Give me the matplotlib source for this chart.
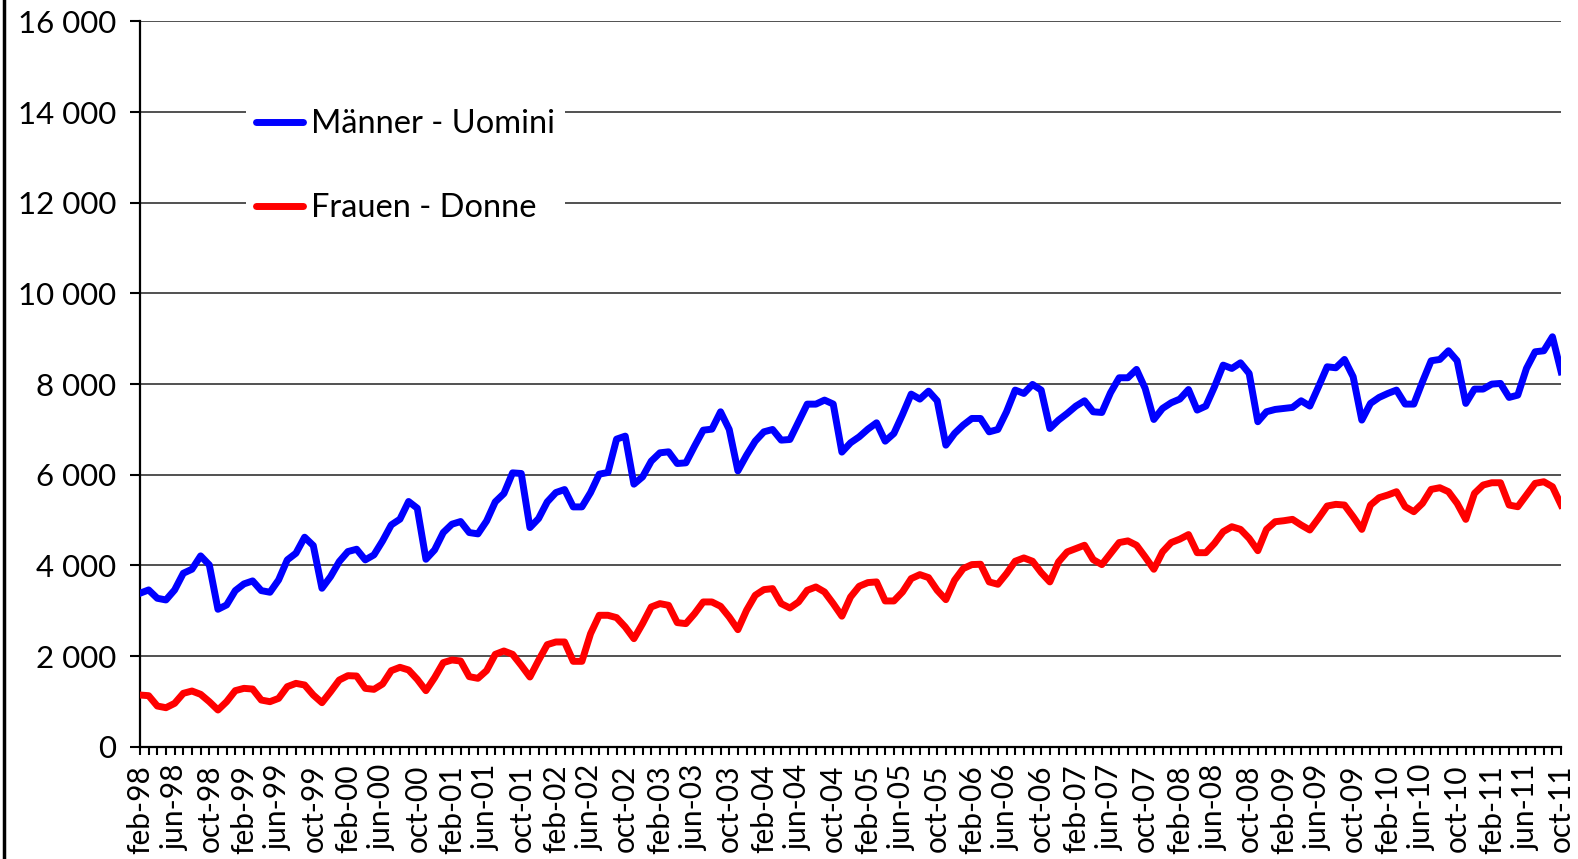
import matplotlib
matplotlib.use('Agg')
import matplotlib.pyplot as plt
from matplotlib.lines import Line2D
from matplotlib.ticker import FuncFormatter

# monthly values feb-98 .. oct-11
maenner = [3386, 3459, 3275, 3238, 3459, 3827, 3916, 4210, 4011, 3032, 3128, 3444,
           3592, 3658, 3444, 3408, 3680, 4122, 4269, 4622, 4438, 3496, 3754, 4085,
           4306, 4357, 4122, 4232, 4541, 4894, 5020, 5410, 5262, 4136, 4342, 4725,
           4909, 4968, 4725, 4696, 4980, 5402, 5586, 6042, 6028, 4835, 5034, 5402,
           5608, 5674, 5291, 5291, 5608, 6013, 6050, 6786, 6852, 5792, 5954, 6300,
           6484, 6506, 6248, 6263, 6631, 6984, 7006, 7389, 6999, 6086, 6432, 6741,
           6947, 6999, 6764, 6778, 7168, 7558, 7558, 7647, 7560, 6500, 6705, 6837,
           7006, 7146, 6741, 6911, 7330, 7779, 7669, 7845, 7632, 6653, 6911, 7095,
           7242, 7242, 6947, 6999, 7389, 7868, 7794, 7993, 7868, 7021, 7205, 7352,
           7514, 7632, 7389, 7374, 7809, 8140, 8140, 8324, 7904, 7220, 7463, 7588,
           7670, 7880, 7427, 7515, 7941, 8419, 8345, 8470, 8235, 7170, 7390, 7441,
           7463, 7485, 7632, 7515, 7941, 8382, 8360, 8544, 8162, 7206, 7574, 7706,
           7794, 7868, 7559, 7559, 8051, 8515, 8544, 8735, 8515, 7574, 7890, 7890,
           8000, 8015, 7706, 7757, 8345, 8713, 8735, 9044, 8272]

frauen = [1141, 1126, 898, 861, 957, 1178, 1229, 1156, 994, 810, 994, 1237,
          1288, 1273, 1030, 994, 1067, 1325, 1398, 1362, 1141, 972, 1214, 1472,
          1568, 1560, 1288, 1266, 1384, 1678, 1752, 1693, 1487, 1237, 1524, 1855,
          1914, 1891, 1546, 1509, 1680, 2038, 2112, 2038, 1796, 1538, 1906, 2252,
          2311, 2311, 1884, 1884, 2495, 2900, 2900, 2848, 2642, 2384, 2716, 3083,
          3157, 3120, 2738, 2716, 2936, 3194, 3194, 3098, 2862, 2583, 3010, 3341,
          3466, 3488, 3157, 3061, 3194, 3451, 3525, 3414, 3157, 2880, 3304, 3540,
          3621, 3636, 3216, 3216, 3415, 3709, 3797, 3731, 3451, 3245, 3672, 3930,
          4018, 4026, 3636, 3584, 3820, 4092, 4165, 4092, 3842, 3636, 4077, 4298,
          4371, 4445, 4128, 4018, 4261, 4504, 4541, 4445, 4187, 3915, 4298, 4504,
          4580, 4680, 4281, 4281, 4487, 4744, 4854, 4795, 4597, 4325, 4795, 4964,
          4986, 5016, 4891, 4781, 5038, 5310, 5347, 5332, 5075, 4795, 5332, 5494,
          5553, 5626, 5295, 5185, 5369, 5677, 5714, 5626, 5369, 5016, 5589, 5773,
          5824, 5824, 5332, 5295, 5553, 5810, 5846, 5736, 5332]

monate = ['jan', 'feb', 'mar', 'apr', 'may', 'jun', 'jul', 'aug', 'sep', 'oct', 'nov', 'dec']
labels = []
for k in range(len(maenner)):
    m = (1 + k) % 12
    y = (1998 + (1 + k) // 12) % 100
    labels.append('%s-%02d' % (monate[m], y))

plt.rcParams['font.family'] = ['Lato', 'DejaVu Sans']

fig = plt.figure(figsize=(15.78, 8.59), dpi=100)
ax = fig.add_axes([0.0887, 0.1307, 0.9006, 0.8443])

x = list(range(len(maenner)))
ax.plot(x, maenner, color='#0000FF', lw=5, solid_joinstyle='round', label='Männer - Uomini', zorder=3)
ax.plot(x, frauen, color='#FF0000', lw=5, solid_joinstyle='round', label='Frauen - Donne', zorder=3)

ax.set_xlim(0, len(maenner) - 1)
ax.set_ylim(0, 16000)
ax.set_yticks(range(0, 16001, 2000))
ax.yaxis.set_major_formatter(FuncFormatter(lambda v, p: '{:,.0f}'.format(v).replace(',', ' ')))
ax.set_xticks(x)
ax.set_xticklabels([lab if k % 4 == 0 else '' for k, lab in enumerate(labels)], rotation=90)
ax.tick_params(axis='x', direction='out', length=6, width=1.5, labelsize=21.5, pad=7)
ax.tick_params(axis='y', direction='out', length=7, width=1.5, labelsize=22.5, pad=10)

ax.grid(axis='y', color='#222222', lw=1.1)
ax.set_axisbelow(True)
for s in ['top', 'right']:
    ax.spines[s].set_visible(False)
for s in ['left', 'bottom']:
    ax.spines[s].set_linewidth(1.6)

leg = ax.legend(loc='center left', bbox_to_anchor=(246 / 1578, 1 - 166 / 859),
                bbox_transform=fig.transFigure, fontsize=23.5, frameon=True,
                framealpha=1, edgecolor='none', fancybox=False, borderpad=0.3,
                labelspacing=1.65, handlelength=1.45, handletextpad=0.25, borderaxespad=0)
for h in leg.get_lines():
    h.set_linewidth(5)
    h.set_solid_capstyle('round')

fig.add_artist(Line2D([4 / 1578, 4 / 1578], [0, 1], color='black', lw=2.5, transform=fig.transFigure))

fig.savefig('out.png', dpi=100)
